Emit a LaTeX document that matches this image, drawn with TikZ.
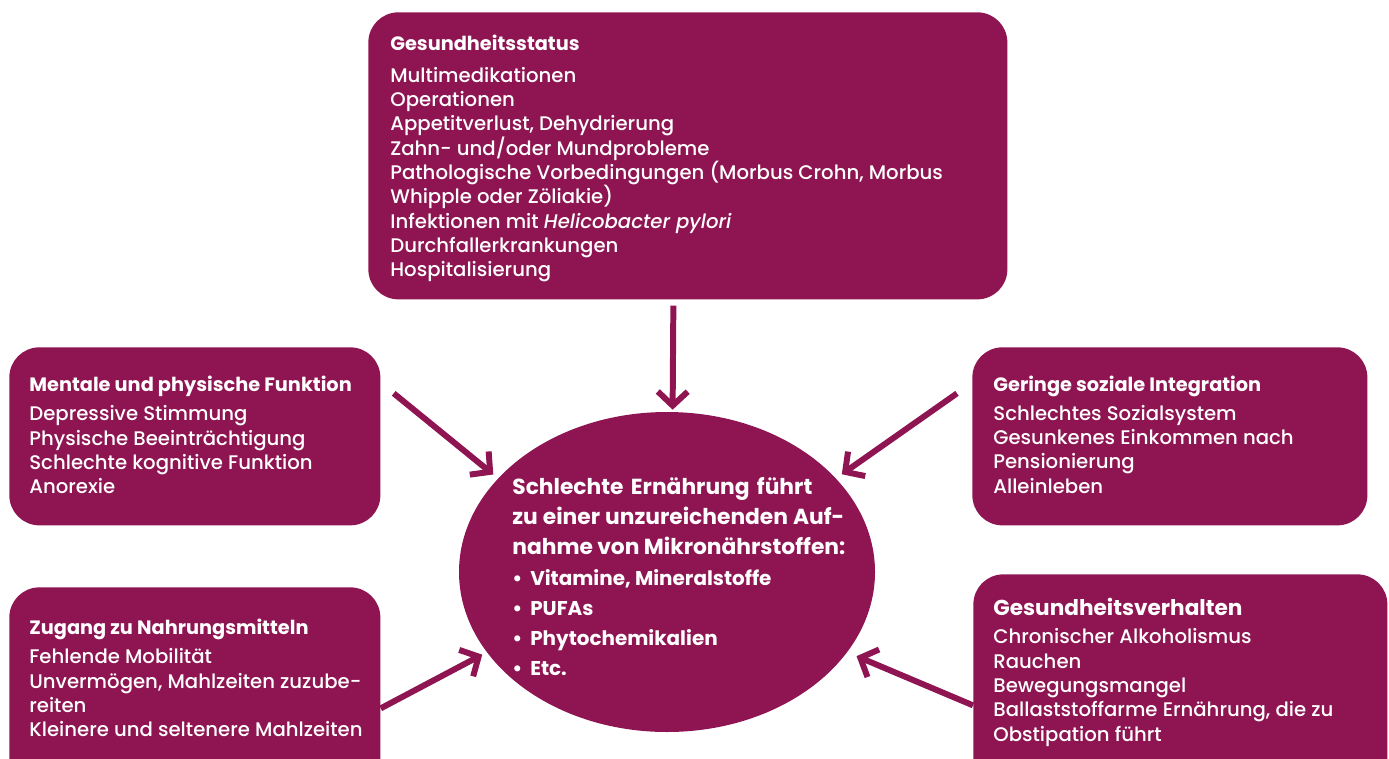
\documentclass[tikz,border=0pt]{standalone}
\usepackage{fontspec}
\setmainfont{Poppins}[UprightFont=* Medium, ItalicFont=* Medium Italic, BoldFont=* Bold]
\usetikzlibrary{positioning,shapes.geometric,arrows.meta}
\definecolor{weinrot}{RGB}{142,21,82}

% first line gets a fixed height, so the node top lies 10pt over its baseline
\newcommand{\oben}{\rule{0pt}{10pt}}
\newcommand{\titel}[1]{{\fontsize{11}{13.8}\selectfont\textbf{#1}}}
\newcommand{\kopf}[2]{{\fontsize{12.4}{17.2}\selectfont\makebox[#1][s]{#2}}}

\tikzset{
  kasten/.style={fill=weinrot, rounded corners=0.6cm, inner sep=0pt, anchor=north west},
  inhalt/.style={text=white, anchor=north west, align=left, inner sep=0pt, yshift=10pt,
                 font=\fontsize{11.2}{13.85}\selectfont},
  pfeil/.style={draw=weinrot, line width=3.4pt, -{Straight Barb[length=8pt,width=17pt]}},
}

\begin{document}
\begin{tikzpicture}
\useasboundingbox (0,0) rectangle (27.78,-15.16);
\clip (0,0) rectangle (27.78,-15.16);

\node (gesund)    [kasten, minimum width=12.78cm, minimum height=5.74cm] at (7.36,-0.24)  {};
\node (mental)    [kasten, minimum width=7.42cm,  minimum height=3.56cm] at (0.18,-6.94)  {};
\node (sozial)    [kasten, minimum width=7.90cm,  minimum height=3.56cm] at (19.44,-6.94) {};
\node (zugang)    [kasten, minimum width=7.42cm,  minimum height=4.20cm] at (0.18,-11.74) {};
\node (verhalten) [kasten, minimum width=8.28cm,  minimum height=4.40cm] at (19.46,-11.48) {};
\node (ell) [ellipse, fill=weinrot, inner sep=0pt, minimum width=8.32cm, minimum height=6.4cm] at (13.34,-11.44) {};

\node (T1) [inhalt] at (7.80,-1.01) {\oben\titel{Gesundheitsstatus}\\[4pt]
  Multimedikationen\\
  Operationen\\
  Appetitverlust, Dehydrierung\\
  Zahn- und/oder Mundprobleme\\
  Pathologische Vorbedingungen (Morbus Crohn, Morbus\\
  Whipple oder Zöliakie)\\
  Infektionen mit \textit{Helicobacter pylori}\\
  Durchfallerkrankungen\\
  Hospitalisierung};

\node (T2) [inhalt] at (0.58,-7.83) {\oben\titel{Mentale und physische Funktion}\\[2.6pt]
  Depressive Stimmung\\
  Physische Beeinträchtigung\\
  Schlechte kognitive Funktion\\
  Anorexie};

\node (T3) [inhalt] at (19.86,-7.83) {\oben\titel{Geringe soziale Integration}\\[2.3pt]
  Schlechtes Sozialsystem\\
  Gesunkenes Einkommen nach\\
  Pensionierung\\
  Alleinleben};

\node (T4) [inhalt] at (0.58,-12.69) {\oben\titel{Zugang zu Nahrungsmitteln}\\[2.6pt]
  Fehlende Mobilität\\
  Unvermögen, Mahlzeiten zuzube-\\
  reiten\\
  Kleinere und seltenere Mahlzeiten};

\node (T5) [inhalt] at (19.86,-12.30) {\oben{\fontsize{12.3}{13.8}\selectfont\textbf{Gesundheitsverhalten}}\\[2.3pt]
  Chronischer Alkoholismus\\
  Rauchen\\
  Bewegungsmangel\\
  Ballaststoffarme Ernährung, die zu\\
  Obstipation führt};

\node (T6) [inhalt, font=\fontsize{11.35}{17.2}\selectfont\bfseries] at (10.24,-9.88) {\oben
  \kopf{6.0cm}{Schlechte Ernährung führt}\\
  \kopf{6.64cm}{zu einer unzureichenden Auf-}\\
  \kopf{6.66cm}{nahme von Mikronährstoffen:}\\
  \makebox[10.2pt][l]{•}Vitamine, Mineralstoffe\\
  \makebox[10.2pt][l]{•}PUFAs\\
  \makebox[10.2pt][l]{•}Phytochemikalien\\
  \makebox[10.2pt][l]{•}Etc.};

\draw[pfeil, shorten >=0.04cm] ([xshift=-0.29cm,yshift=-0.12cm]gesund.south) -- (ell.88);
\draw[pfeil, shorten >=0.12cm] ([xshift=0.26cm,yshift=0.86cm]mental.east) -- (ell.151);
\draw[pfeil, shorten >=0.14cm] ([xshift=-0.3cm,yshift=0.86cm]sozial.west) -- (ell.29);
\draw[pfeil, shorten >=0.10cm] ([yshift=-0.32cm]zugang.east) -- (ell.204);
\draw[pfeil, shorten >=0.20cm] ([yshift=-0.42cm]verhalten.west) -- (ell.336);
\end{tikzpicture}
\end{document}
